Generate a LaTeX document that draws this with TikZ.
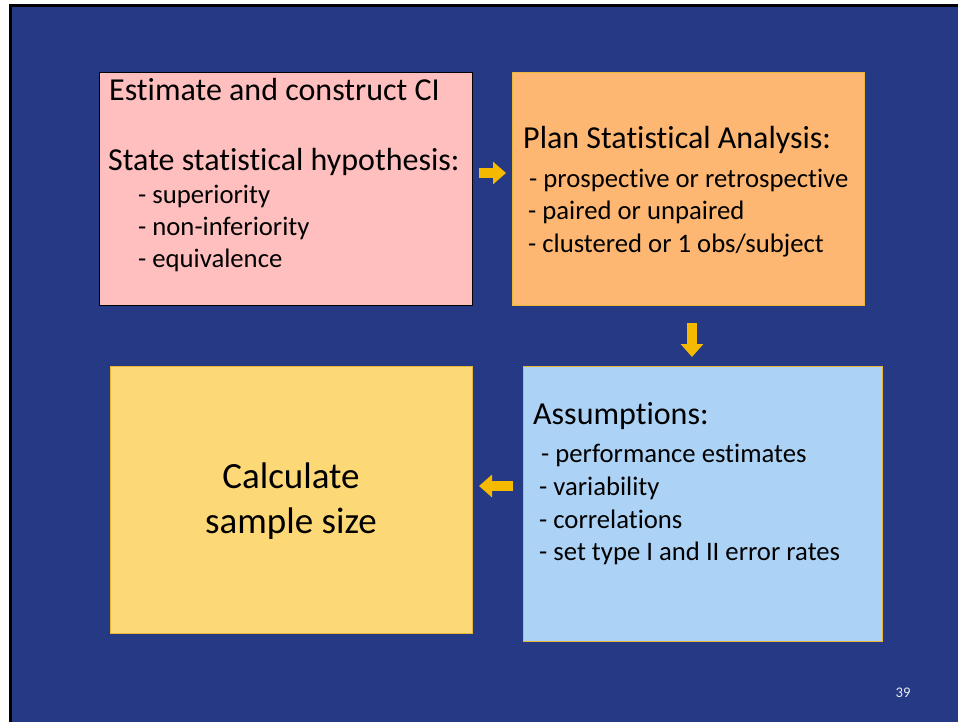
\documentclass[tikz,border=0pt]{standalone}
\usepackage{fontspec}
\setmainfont{Carlito}[Ligatures=NoCommon]
\usetikzlibrary{arrows.meta}
\definecolor{slidebg}{HTML}{253985}
\definecolor{pinkfill}{HTML}{FFBFBF}
\definecolor{orangefill}{HTML}{FDB772}
\definecolor{bluefill}{HTML}{ACD2F5}
\definecolor{yellowfill}{HTML}{FDD877}
\definecolor{goldline}{HTML}{E9B73A}
\definecolor{arrowgold}{HTML}{F5BA00}
\begin{document}
\begin{tikzpicture}[x=1pt,y=-1pt,
  panel/.style={draw, line width=1pt, anchor=north west, inner sep=0pt, outer sep=0pt},
  head/.style={anchor=base west, inner sep=0pt, font=\fontsize{32}{38}\selectfont},
  item/.style={anchor=base west, inner sep=0pt, font=\fontsize{26.7}{32}\selectfont},
  bigtext/.style={anchor=base, inner sep=0pt, font=\fontsize{37}{44}\selectfont},
  flow/.style={draw=arrowgold, line width=10pt, -{Triangle[width=22pt,length=13pt]}},
]
\useasboundingbox (0,0) rectangle (958,721);
\clip (0,0) rectangle (958,721);
\fill[white] (0,0) rectangle (958,721);
% slide background with its black frame
\draw[line width=3pt, fill=slidebg] (10.5,5.5) rectangle (970,730);

% the four panels
\node[panel, draw=black, fill=pinkfill, minimum width=373pt, minimum height=233pt] (est) at (99,72) {};
\node[panel, draw=goldline, fill=orangefill, minimum width=352pt, minimum height=233pt] (plan) at (512,72) {};
\node[panel, draw=goldline, fill=bluefill, minimum width=359pt, minimum height=275pt] (assum) at (523,366) {};
\node[panel, draw=goldline, fill=yellowfill, minimum width=362pt, minimum height=267pt] (calc) at (110,366) {};

% texts of the first panel
\node[head] (est1) at (109,100) {Estimate and construct CI};
\node[head] (est2) at (108,170) {State statistical hypothesis:};
\node[item] (est3) at (138,203) {- superiority};
\node[item] (est4) at (138,235) {- non-inferiority};
\node[item] (est5) at (138,267) {- equivalence};

% texts of the second panel
\node[head] (plan1) at (523,148) {Plan Statistical Analysis:};
\node[item] (plan2) at (529,187) {- prospective or retrospective};
\node[item] (plan3) at (528,219) {- paired or unpaired};
\node[item] (plan4) at (528,252) {- clustered or 1 obs/subject};

% texts of the third panel
\node[head] (as1) at (533,424) {Assumptions:};
\node[item] (as2) at (541,462) {- performance estimates};
\node[item] (as3) at (539,495) {- variability};
\node[item] (as4) at (539,528) {- correlations};
\node[item] (as5) at (539,560) {- set type I and II error rates};

% text of the last panel
\node[bigtext] (calc1) at (291,488) {Calculate};
\node[bigtext] (calc2) at (291,533) {sample size};

% slide number
\node[anchor=base, inner sep=0pt, text=white!90!slidebg, font=\fontsize{14.7}{17}\selectfont] (pagenum) at (903,697) {39};

% flow arrows between the panels
\draw[flow, shorten <=7pt, shorten >=6pt] ([yshift=15.5pt]est.east) -- ([yshift=15.5pt]est.east -| plan.west);
\draw[flow, shorten <=18pt, shorten >=9pt] ([xshift=4pt]plan.south) -- ([xshift=4pt]plan.south |- assum.north);
\draw[flow, shorten <=10pt, shorten >=7pt] ([yshift=17.5pt]assum.west) -- ([yshift=17.5pt]assum.west -| calc.east);
\end{tikzpicture}
\end{document}
